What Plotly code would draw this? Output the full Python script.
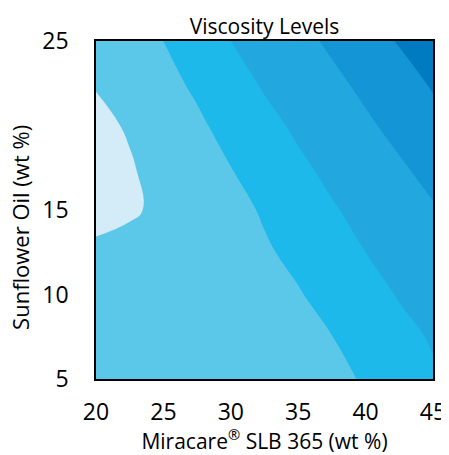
import plotly.graph_objects as go

# grid
miracare = [20, 22.5, 25, 27.5, 30, 32.5, 35, 37.5, 40, 42.5, 45]
sunflower = [5, 7.5, 10, 12.5, 15, 17.5, 20, 22.5, 25]
viscosity = [
    [1.35, 1.43, 1.51, 1.60, 1.68, 1.76, 1.84, 1.92, 2.03, 2.45, 2.90],
    [1.30, 1.40, 1.50, 1.60, 1.70, 1.80, 1.89, 1.99, 2.35, 2.75, 3.08],
    [1.20, 1.33, 1.45, 1.58, 1.70, 1.83, 1.95, 2.26, 2.66, 3.06, 3.39],
    [1.15, 1.26, 1.42, 1.58, 1.75, 1.91, 2.18, 2.59, 3.00, 3.32, 3.66],
    [0.75, 0.90, 1.16, 1.46, 1.76, 2.08, 2.50, 2.92, 3.26, 3.59, 3.92],
    [0.70, 0.93, 1.31, 1.65, 1.99, 2.41, 2.84, 3.21, 3.55, 3.89, 4.29],
    [0.80, 1.08, 1.50, 1.86, 2.28, 2.74, 3.15, 3.50, 3.86, 4.26, 4.69],
    [1.05, 1.39, 1.76, 2.14, 2.63, 3.10, 3.45, 3.80, 4.20, 4.60, 5.10],
    [1.30, 1.65, 2.00, 2.50, 3.00, 3.38, 3.75, 4.15, 4.60, 5.07, 5.55],
]
x_ticks = [20, 25, 30, 35, 40, 45]
y_ticks = [5, 10, 15, 25]

level_colors = ['#D3ECF7', '#5BC8EA', '#1CB9EA', '#22A8DE', '#1395D6', '#007BC2']
scale = [[i / (len(level_colors) - 1), c] for i, c in enumerate(level_colors)]

fig = go.Figure(
    data=[go.Contour(
        x=miracare,
        y=sunflower,
        z=viscosity,
        colorscale=scale,
        showscale=False,
        contours={'start': 1, 'end': 5, 'size': 1, 'coloring': 'fill'},
        line={'width': 0, 'smoothing': 1.3},
        hoverinfo='skip',
    )],
    # page body adds 8px at top/left, so the figure is 8px smaller
    layout=go.Layout(
        width=441,
        height=447,
        margin=go.layout.Margin(l=88, r=16, t=33, b=76),
        paper_bgcolor='white',
        plot_bgcolor='white',
        font={'family': 'Open Sans', 'color': 'black', 'size': 23},
        title={
            'text': 'Viscosity Levels',
            'font': {'size': 21},
            'x': 0.5, 'xanchor': 'center',
            'y': 0.958, 'yanchor': 'middle',
            'xref': 'paper',
        },
        xaxis={
            'range': [20, 45],
            'tickvals': x_ticks,
            'showgrid': False, 'zeroline': False,
            'showline': True, 'linecolor': 'black', 'linewidth': 1.5, 'mirror': True,
            'ticks': '', 'ticklabelstandoff': 12,
            'automargin': False,
            'title': {'text': 'Miracare<sup>®</sup> SLB 365 (wt %)', 'font': {'size': 21}, 'standoff': 10},
        },
        yaxis={
            'range': [5, 25],
            'tickvals': y_ticks,
            'showgrid': False, 'zeroline': False,
            'showline': True, 'linecolor': 'black', 'linewidth': 1.5, 'mirror': True,
            'ticks': '', 'ticklabelstandoff': 21,
            'automargin': False,
        },
        # y title sits a bit below the plot centre in the reference
        annotations=[{
            'text': 'Sunflower Oil (wt %)',
            'textangle': -90,
            'font': {'size': 22},
            'xref': 'paper', 'yref': 'paper',
            'x': -0.2255, 'y': 0.447,
            'xanchor': 'center', 'yanchor': 'middle',
            'showarrow': False,
        }],
    ),
)

fig.write_html("out.html")
